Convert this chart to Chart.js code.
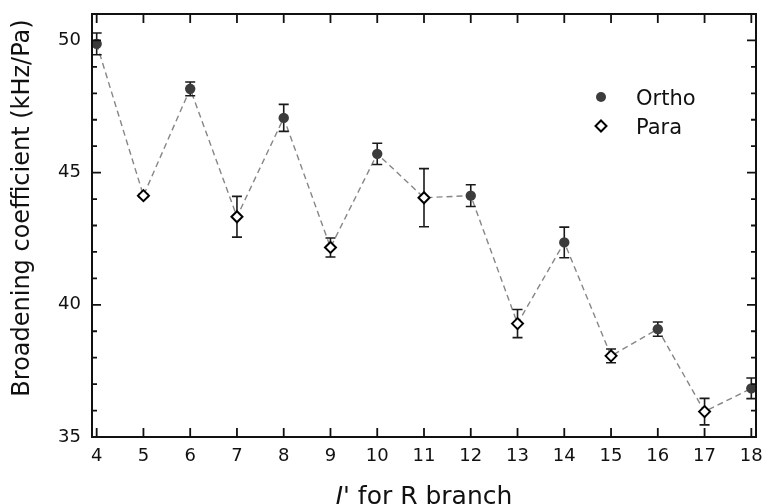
<!DOCTYPE html>
<html>
<head>
<meta charset="utf-8">
<script src="https://cdn.jsdelivr.net/npm/chart.js@4.4.1/dist/chart.umd.min.js"></script>
<style>
  html, body { margin: 0; padding: 0; background: #ffffff; }
  #wrap { width: 765px; height: 504px; }
</style>
</head>
<body>
<div id="wrap"><canvas id="c" width="765" height="504"></canvas></div>
<script>
// ---- data ----
const orthoJ = [4, 6, 8, 10, 12, 14, 16, 18];
const orthoVal = [49.87, 48.17, 47.07, 45.71, 44.13, 42.36, 39.08, 36.84];
const orthoErr = [0.41, 0.26, 0.51, 0.40, 0.41, 0.58, 0.27, 0.39];
const paraJ = [5, 7, 9, 11, 13, 15, 17];
const paraVal = [44.13, 43.33, 42.17, 44.05, 39.29, 38.07, 35.96];
const paraErr = [0.05, 0.77, 0.36, 1.10, 0.53, 0.26, 0.50];
const xTicks = [4, 5, 6, 7, 8, 9, 10, 11, 12, 13, 14, 15, 16, 17, 18];
const yTicks = [35, 40, 45, 50];
const yMinorStep = 1;
const seriesNames = ['Ortho', 'Para'];
const yTitle = 'Broadening coefficient (kHz/Pa)';
const xTitleItalic = 'J';
const xTitleRest = "' for R branch";

const FONT = "'DejaVu Sans', 'Verdana', sans-serif";
const orthoPts = orthoJ.map((j, i) => ({ x: j, y: orthoVal[i] }));
const paraPts = paraJ.map((j, i) => ({ x: j, y: paraVal[i] }));
const allPts = orthoPts.concat(paraPts).sort((a, b) => a.x - b.x);

const decor = {
  id: 'decor',
  afterDatasetDraw(chart, args) {
    if (args.index !== 2) return;
    const { ctx, scales: { x, y } } = chart;
    ctx.save();
    ctx.strokeStyle = '#1a1a1a';
    ctx.lineWidth = 1.6;
    const drawErr = (xs, vs, es) => xs.forEach((xv, i) => {
      const px = x.getPixelForValue(xv);
      const t = y.getPixelForValue(vs[i] + es[i]);
      const b = y.getPixelForValue(vs[i] - es[i]);
      ctx.beginPath();
      ctx.moveTo(px, t); ctx.lineTo(px, b);
      ctx.moveTo(px - 5, t); ctx.lineTo(px + 5, t);
      ctx.moveTo(px - 5, b); ctx.lineTo(px + 5, b);
      ctx.stroke();
    });
    drawErr(orthoJ, orthoVal, orthoErr);
    drawErr(paraJ, paraVal, paraErr);
    ctx.restore();
  },
  afterDraw(chart) {
    const { ctx, chartArea: a, scales: { x, y } } = chart;
    ctx.save();
    // frame
    ctx.strokeStyle = '#111111';
    ctx.lineWidth = 2;
    ctx.strokeRect(a.left, a.top, a.right - a.left, a.bottom - a.top);
    // x ticks (inward, top and bottom)
    ctx.lineWidth = 1.8;
    ctx.beginPath();
    xTicks.forEach(v => {
      const px = x.getPixelForValue(v);
      ctx.moveTo(px, a.bottom); ctx.lineTo(px, a.bottom - 9);
      ctx.moveTo(px, a.top); ctx.lineTo(px, a.top + 9);
    });
    // y ticks major + minor
    for (let v = Math.ceil(y.min); v <= y.max + 1e-9; v += yMinorStep) {
      const py = y.getPixelForValue(v);
      const len = yTicks.includes(v) ? 9 : 5;
      ctx.moveTo(a.left, py); ctx.lineTo(a.left + len, py);
      ctx.moveTo(a.right, py); ctx.lineTo(a.right - len, py);
    }
    ctx.stroke();

    // legend
    ctx.fillStyle = '#3c3c3c';
    ctx.beginPath(); ctx.arc(601, 97, 5, 0, Math.PI * 2); ctx.fill();
    ctx.strokeStyle = '#000000'; ctx.lineWidth = 2; ctx.fillStyle = '#ffffff';
    ctx.beginPath();
    ctx.moveTo(601, 126 - 5.5); ctx.lineTo(606.5, 126); ctx.lineTo(601, 126 + 5.5); ctx.lineTo(595.5, 126); ctx.closePath();
    ctx.fill(); ctx.stroke();
    ctx.fillStyle = '#111111';
    ctx.font = '21px ' + FONT;
    ctx.textAlign = 'left'; ctx.textBaseline = 'alphabetic';
    ctx.fillText(seriesNames[0], 636, 105);
    ctx.fillText(seriesNames[1], 636, 134);

    // y title
    ctx.save();
    ctx.font = '24px ' + FONT;
    ctx.textAlign = 'center';
    ctx.translate(29, 208);
    ctx.rotate(-Math.PI / 2);
    ctx.fillText(yTitle, 0, 0);
    ctx.restore();

    // x title
    ctx.font = 'italic 25px ' + FONT;
    const w1 = ctx.measureText(xTitleItalic).width;
    ctx.font = '25px ' + FONT;
    const w2 = ctx.measureText(xTitleRest).width;
    const cx = (a.left + a.right) / 2;
    let sx = cx - (w1 + w2) / 2;
    ctx.textAlign = 'left';
    ctx.font = 'italic 25px ' + FONT;
    ctx.fillText(xTitleItalic, sx, 504);
    ctx.font = '25px ' + FONT;
    ctx.fillText(xTitleRest, sx + w1, 504);
    ctx.restore();
  }
};

new Chart(document.getElementById('c'), {
  type: 'scatter',
  data: {
    datasets: [
      {
        label: seriesNames[0], data: orthoPts, order: 1,
        pointStyle: 'circle', pointRadius: 5.2, pointHoverRadius: 5.2,
        backgroundColor: '#3c3c3c', borderColor: '#3c3c3c', borderWidth: 0, showLine: false
      },
      {
        label: seriesNames[1], data: paraPts, order: 1,
        pointStyle: 'rectRot', pointRadius: 5.5, pointHoverRadius: 5.5,
        backgroundColor: '#ffffff', borderColor: '#000000', borderWidth: 2, showLine: false
      },
      {
        label: 'all', data: allPts, order: 3, showLine: true,
        borderColor: '#868686', borderWidth: 1.4, borderDash: [6, 4],
        pointRadius: 0, pointHoverRadius: 0, fill: false, tension: 0
      }
    ]
  },
  options: {
    responsive: false,
    devicePixelRatio: 1,
    animation: false,
    events: [],
    layout: { padding: { top: 14, right: 9, left: 0, bottom: 0 } },
    plugins: { legend: { display: false }, tooltip: { enabled: false }, title: { display: false } },
    scales: {
      x: {
        type: 'linear', position: 'bottom', min: 3.9, max: 18.1,
        grid: { display: false, drawTicks: false },
        border: { display: false },
        ticks: { font: { family: FONT, size: 18 }, color: '#111111', padding: 9, maxRotation: 0, autoSkip: false },
        afterBuildTicks: s => { s.ticks = xTicks.map(v => ({ value: v })); },
        afterFit: s => { s.height = 67; s.paddingLeft = 0; s.paddingRight = 0; }
      },
      y: {
        type: 'linear', position: 'left', min: 35, max: 51,
        grid: { display: false, drawTicks: false },
        border: { display: false },
        ticks: { font: { family: FONT, size: 18 }, color: '#111111', padding: 11, autoSkip: false },
        afterBuildTicks: s => { s.ticks = yTicks.map(v => ({ value: v })); },
        afterFit: s => { s.width = 92; s.paddingTop = 0; s.paddingBottom = 0; }
      }
    }
  },
  plugins: [decor]
});
</script>
</body>
</html>
